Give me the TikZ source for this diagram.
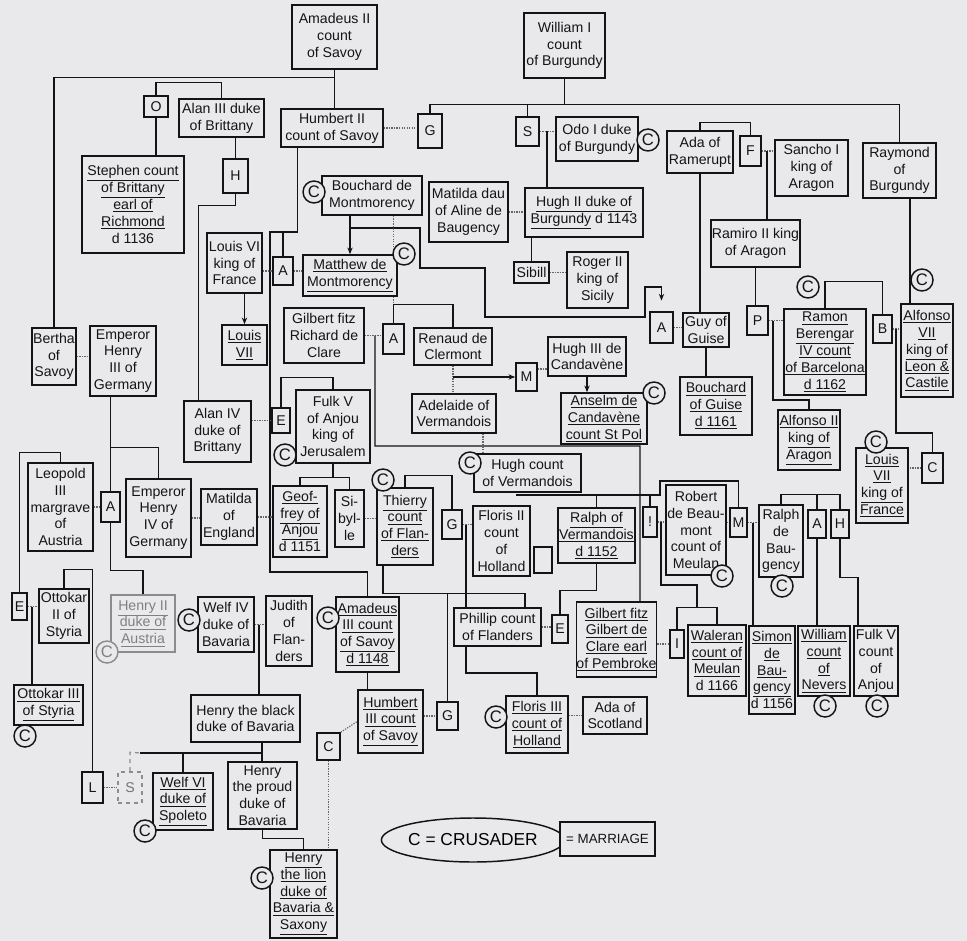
\documentclass[tikz,border=0pt]{standalone}
\usepackage{fontspec}
\setmainfont{Liberation Sans}
\usetikzlibrary{arrows.meta,shapes.geometric,calc}
\definecolor{bg}{RGB}{233,233,236}
\definecolor{ink}{RGB}{20,20,20}
\newcommand\ul[1]{\underline{#1}}
\newcommand\B[7][]{\node[box,#1,minimum width={(#5-#3)*0.75pt},minimum height={(#6-#4)*0.75pt}] (#2) at ({(#3+#5)/2},{(#4+#6)/2}) {#7};}
\pgfdeclarelayer{bgfill}
\pgfdeclarelayer{back}
\pgfsetlayers{bgfill,back,main}
\begin{document}
\begin{tikzpicture}[x=0.75pt,y=-0.75pt,
  font=\fontsize{10.6}{12.6}\selectfont,
  box/.style={draw=ink,line width=1.2pt,fill=bg,inner sep=0pt,align=center,text=ink},
  lnk/.style={draw=ink,line width=0.95pt},
  mar/.style={draw=black!60,line width=0.9pt,densely dotted},
  arr/.style={lnk,-{Stealth[length=5pt,width=4pt]}},
  crus/.style={circle,draw=ink,line width=1.1pt,fill=bg,inner sep=0pt,minimum size=16.5pt,font=\fontsize{12.5}{12.5}\selectfont,text=ink},
  faded/.style={draw=black!45,text=black!50}]
\begin{pgfonlayer}{bgfill}
\fill[bg] (0,0) rectangle (967,941);
\end{pgfonlayer}
\useasboundingbox (0,0) rectangle (967,941);

% ---------- boxes ----------
\B{am2}{292}{5}{377}{69}{Amadeus II\\count\\of Savoy}
\B{wil1}{524}{13}{605}{78}{William I\\count\\of Burgundy}
\B{oo}{144}{96}{168}{117}{O}
\B{alan3}{179}{99}{264}{137}{Alan III duke\\of Brittany}
\B{hum2}{281}{109}{383}{147}{Humbert II\\count of Savoy}
\B{g1}{418}{114}{442}{148}{G}
\B{s1}{516}{117}{539}{146}{S}
\B{odo}{556}{117}{638}{161}{Odo I duke\\of Burgundy}
\B{steph}{82}{156}{184}{253}{\ul{Stephen count}\\\ul{of Brittany}\\\ul{earl of}\\\ul{Richmond}\\d 1136}
\B{h1}{223}{159}{248}{193}{H}
\B{bouch}{322}{176}{422}{215}{Bouchard de\\Montmorency}
\B{matd}{429}{182}{508}{242}{Matilda dau\\of Aline de\\Baugency}
\B{hugh2}{525}{188}{643}{237}{\ul{Hugh II duke of}\\\ul{Burgundy} d 1143}
\B{sibill}{514}{262}{549}{283}{Sibill}
\B{roger}{567}{252}{628}{308}{Roger II\\king of\\Sicily}
\B{ada}{667}{131}{733}{173}{Ada of\\Ramerupt}
\B{ff}{740}{136}{761}{166}{F}
\B{sancho}{775}{140}{848}{196}{Sancho I\\king of\\Aragon}
\B{raym}{863}{143}{936}{198}{Raymond\\of\\Burgundy}
\B{ramiro}{711}{220}{800}{267}{Ramiro II king\\of Aragon}
\B{louis6}{207}{233}{262}{293}{Louis VI\\king of\\France}
\B{a1}{273}{257}{293}{285}{A}
\B{matth}{303}{255}{397}{296}{\ul{Matthew de}\\\ul{Montmorency}}
\B{louis7a}{222}{325}{267}{365}{\ul{Louis}\\\ul{VII}}
\B{gilb1}{284}{308}{364}{363}{Gilbert fitz\\Richard de\\Clare}
\B{a2}{383}{324}{404}{354}{A}
\B{renaud}{414}{328}{492}{365}{Renaud de\\Clermont}
\B{guy}{683}{313}{729}{347}{Guy of\\Guise}
\B{a3}{650}{312}{673}{343}{A}
\B{pp}{747}{306}{768}{335}{P}
\B{ramon}{784}{309}{866}{395}{\ul{Ramon}\\\ul{Berengar}\\\ul{IV count}\\\ul{of Barcelona}\\\ul{d 1162}}
\B{bb}{873}{315}{892}{343}{B}
\B{alf7}{901}{304}{953}{397}{\ul{Alfonso}\\\ul{VII}\\\ul{king of}\\\ul{Leon \&}\\\ul{Castile}}
\B{hugh3}{548}{337}{626}{376}{Hugh III de\\Candavène}
\B{mm1}{516}{363}{537}{391}{M}
\B{anselm}{561}{393}{647}{444}{\ul{Anselm de}\\\ul{Candavène}\\\ul{count St Pol}}
\B{bguise}{680}{377}{752}{435}{\ul{Bouchard}\\\ul{of Guise}\\\ul{d 1161}}
\B{alf2}{778}{410}{840}{470}{\ul{Alfonso II}\\\ul{king of}\\\ul{Aragon}}
\B{louis7b}{856}{448}{908}{523}{\ul{Louis}\\\ul{VII}\\\ul{king of}\\\ul{France}}
\B{cc1}{922}{453}{943}{483}{C}
\B{bertha}{32}{328}{76}{385}{Bertha\\of\\Savoy}
\B{hen3}{90}{326}{156}{396}{Emperor\\Henry\\III of\\Germany}
\B{alan4}{184}{401}{251}{462}{Alan IV\\duke of\\Brittany}
\B{e1}{272}{408}{290}{433}{E}
\B{fulk5}{296}{390}{370}{463}{Fulk V\\of Anjou\\king of\\Jerusalem}
\B{adel}{412}{394}{496}{433}{Adelaide of\\Vermandois}
\B{hughv}{474}{454}{581}{492}{Hugh count\\of Vermandois}
\B{leop}{28}{463}{93}{551}{Leopold\\III\\margrave\\of\\Austria}
\B{a4}{101}{492}{120}{522}{A}
\B{hen4}{126}{479}{191}{557}{Emperor\\Henry\\IV of\\Germany}
\B{matE}{201}{489}{257}{545}{Matilda\\of\\England}
\B{geof}{273}{486}{327}{557}{\ul{Geof-}\\\ul{frey of}\\\ul{Anjou}\\d 1151}
\B{sib}{335}{490}{364}{547}{Si-\\byl-\\le}
\B{thier}{377}{488}{433}{565}{\ul{Thierry}\\\ul{count}\\\ul{of Flan-}\\\ul{ders}}
\B{g2}{442}{510}{462}{539}{G}
\B{flor2}{473}{506}{530}{576}{Floris II\\count\\of\\Holland}
\B{emptyb}{534}{547}{552}{573}{}
\B{ralphv}{558}{508}{635}{563}{\ul{Ralph of}\\\ul{Vermandois}\\\ul{d 1152}}
\B{excl}{643}{507}{657}{537}{!}
\B{robert}{666}{485}{726}{575}{Robert\\de Beau-\\mont\\count of\\Meulan}
\B{mm2}{730}{508}{747}{537}{M}
\B{ralphb}{759}{505}{803}{577}{Ralph\\de\\Bau-\\gency}
\B{a5}{808}{510}{826}{538}{A}
\B{h2}{831}{510}{849}{538}{H}
\B{ott2}{39}{589}{89}{643}{Ottokar\\II of\\Styria}
\B{e2}{12}{593}{27}{620}{E}
\B[faded]{hen2a}{111}{595}{175}{652}{\ul{Henry II}\\\ul{duke of}\\\ul{Austria}}
\B{welf4}{198}{597}{254}{652}{Welf IV\\duke of\\Bavaria}
\B{judith}{266}{596}{312}{666}{Judith\\of\\Flan-\\ders}
\B{amad3}{336}{597}{399}{672}{\ul{Amadeus}\\\ul{III count}\\\ul{of Savoy}\\\ul{d 1148}}
\B{phil}{454}{608}{541}{646}{Phillip count\\of Flanders}
\B{e3}{552}{615}{568}{643}{E}
\B{gilb2}{577}{602}{656}{677}{\ul{Gilbert fitz}\\\ul{Gilbert de}\\\ul{Clare earl}\\\ul{of Pembroke}}
\B{i1}{670}{630}{684}{658}{I}
\B{waler}{688}{625}{746}{696}{\ul{Waleran}\\\ul{count of}\\\ul{Meulan}\\d 1166}
\B{simon}{749}{626}{795}{714}{\ul{Simon}\\\ul{de}\\\ul{Bau-}\\\ul{gency}\\d 1156}
\B{will}{798}{626}{850}{696}{\ul{William}\\\ul{count}\\\ul{of}\\\ul{Nevers}}
\B{fulka}{854}{626}{898}{696}{Fulk V\\count\\of\\Anjou}
\B{ott3}{14}{685}{83}{725}{\ul{Ottokar III}\\\ul{of Styria}}
\B{hblack}{191}{695}{300}{742}{Henry the black\\duke of Bavaria}
\B{hum3}{358}{690}{423}{753}{\ul{Humbert}\\\ul{III count}\\\ul{of Savoy}}
\B{g3}{437}{702}{458}{730}{G}
\B{flor3}{506}{696}{568}{753}{\ul{Floris III}\\\ul{count of}\\\ul{Holland}}
\B{adasc}{583}{697}{647}{734}{Ada of\\Scotland}
\B{cc2}{317}{733}{340}{760}{C}
\B{ll}{82}{772}{103}{803}{L}
\B[draw=black!45,dashed,text=black!55]{ss}{118}{772}{142}{803}{S}
\B{welf6}{153}{773}{213}{830}{\ul{Welf VI}\\\ul{duke of}\\\ul{Spoleto}}
\B{hproud}{228}{762}{297}{829}{Henry\\the proud\\duke of\\Bavaria}
\B{hlion}{270}{850}{337}{938}{\ul{Henry}\\\ul{the lion}\\\ul{duke of}\\\ul{Bavaria \&}\\\ul{Saxony}}
\node[ellipse,draw=ink,line width=1.1pt,fill=bg,minimum width={163*0.75pt},minimum height={44*0.75pt},inner sep=0pt,font=\fontsize{13}{13}\selectfont] (legc) at (473,840) {C = CRUSADER};
\B[font=\fontsize{10}{12}\selectfont]{legm}{560}{822}{655}{856}{= MARRIAGE}

% ---------- crusader marks ----------
\node[crus] (c1) at (648,140) {C};
\node[crus] (c2) at (314,192) {C};
\node[crus] (c3) at (404,254) {C};
\node[crus] (c4) at (808,287) {C};
\node[crus] (c5) at (922,280) {C};
\node[crus] (c6) at (654,393) {C};
\node[crus] (c7) at (876,442) {C};
\node[crus] (c8) at (285,455) {C};
\node[crus] (c9) at (470,463) {C};
\node[crus] (c10) at (383,480) {C};
\node[crus] (c11) at (722,576) {C};
\node[crus] (c12) at (782,586) {C};
\node[crus,draw=black!45,text=black!50] (c13) at (107,652) {C};
\node[crus] (c14) at (189,620) {C};
\node[crus] (c15) at (328,618) {C};
\node[crus] (c16) at (825,706) {C};
\node[crus] (c17) at (877,706) {C};
\node[crus] (c18) at (25,736) {C};
\node[crus] (c19) at (496,717) {C};
\node[crus] (c20) at (145,831) {C};
\node[crus] (c21) at (262,878) {C};

% ---------- connectors ----------
\begin{pgfonlayer}{back}
% Savoy / Brittany
\draw[lnk] (am2.south) -- (am2.south |- hum2.north);
\draw[lnk] (am2.south) -- ++(0,8) -| (bertha.north);
\draw[lnk] (oo.north) -- ++(0,-13) -| (alan3.north);
\draw[lnk] (oo.south) -- (oo.south |- steph.north);
\draw[lnk] (h1.north |- alan3.south) -- (h1.north);
\draw[lnk] (h1.south) -- ++(0,12) -| ([xshift=-14pt]alan4.north);
\draw[lnk] ([xshift=-26pt]hum2.south) |- (270,232) -- (270,572) -| (amad3.north);
\draw[lnk] (a1.north) -- (a1.north |- 0,232);
\draw[mar] (hum2.east) -- (hum2.east -| g1.west);
% Burgundy
\draw[lnk] (wil1.south) -- (wil1.south |- 0,105);
\draw[lnk] (g1.north) -- ++(0,-9) -| (raym.north);
\draw[lnk] (s1.north) -- (s1.north |- 0,105);
\draw[mar] (s1.east) -- (s1.east -| odo.west);
\draw[lnk] (547,131.5) -- (547,0 |- hugh2.north);
\draw[mar] (matd.east) -- (matd.east -| hugh2.west);
\draw[lnk] (sibill.north |- hugh2.south) -- (sibill.north);
\draw[mar] (sibill.east) -- (sibill.east -| roger.west);
% Ramerupt / Aragon
\draw[lnk] (ada.north) -- ++(0,-8) -| (ff.north);
\draw[mar] (ff.east) -- (ff.east -| sancho.west);
\draw[lnk] (767,151) -- (767,0 |- ramiro.north);
\draw[lnk] (ada.south) -- (ada.south |- guy.north);
\draw[lnk] (guy.south) -- (guy.south |- bguise.north);
\draw[mar] (a3.east) -- (a3.east -| guy.west);
\draw[lnk] (ramiro.south) -- (ramiro.south |- pp.north);
\draw[mar] (pp.east) -- (pp.east -| ramon.west);
\draw[lnk] (773,320.5) -- (773,400) -| (alf2.north);
\draw[lnk] (ramon.north) -- ++(0,-27) -| (bb.north);
\draw[mar] (bb.east) -- (bb.east -| alf7.west);
\draw[lnk] (896,329) -- (896,433) -| (cc1.north);
\draw[lnk] (910,0 |- raym.south) -- (910,0 |- alf7.north);
\draw[mar] (cc1.west) -- (cc1.west -| louis7b.east);
% Montmorency
\draw[arr] (matth.north |- bouch.south) -- (matth.north);
\draw[arr,shorten >=8pt] (350,228) -- (420,228) -- (420,268) -- (485,268) -- (485,317) -- (645,317) -- (645,287) -| (a3.north);
\draw[mar] (a2.north |- bouch.south) -- (a2.north |- matth.north);
\draw[mar] (a2.north |- matth.south) -- (a2.north);
\draw[mar] (a1.west -| louis6.east) -- (a1.west);
\draw[mar] (a1.east) -- (a1.east -| matth.west);
\draw[arr] (louis7a.north |- louis6.south) -- (louis7a.north);
% Clare / Clermont / Vermandois
\draw[mar] (gilb1.east) -- (gilb1.east -| a2.west);
\draw[lnk] (375,335.5) -- (375,446) -- (640,446) -- ([xshift=17.6pt]gilb2.north);
\draw[lnk] (a2.north) -- ++(0,-19) -| (renaud.north);
\draw[mar] (renaud.south) -- (renaud.south |- adel.north);
\draw[arr] (mm1.west -| renaud.south) -- (mm1.west);
\draw[mar] ([yshift=6pt]mm1.east) -- ([yshift=6pt]mm1.east -| hugh3.west);
\draw[arr] (hugh3.south) -- (hugh3.south |- anselm.north);
\draw[mar] (483,0 |- adel.south) -- (483,0 |- hughv.north);
\draw[lnk] (516,495) -- (660,495) -- (660,481) -| (mm2.north);
\draw[lnk] (ralphv.north |- 0,495) -- (ralphv.north);
\draw[lnk] (excl.north |- 0,495) -- (excl.north);
\draw[mar] (excl.east) -- (excl.east -| robert.west);
\draw[lnk] (661,522) -- (661,585) -- (697,585) -- (697,608);
\draw[lnk] (i1.north) -- ++(0,-22) -| (waler.north);
\draw[mar] (mm2.west -| robert.east) -- (mm2.west);
\draw[mar] (mm2.east) -- (mm2.east -| ralphb.west);
\draw[lnk] (753,522.5) -- (753,0 |- simon.north);
\draw[lnk] (ralphb.north) -- ++(0,-10) -| (h2.north);
\draw[lnk] (a5.north) -- (a5.north |- 0,495);
\draw[lnk] (a5.south) -- (a5.south |- will.north);
\draw[lnk] (h2.south) -- ++(0,39) -| ([xshift=-13.5pt]fulka.north);
\draw[mar] (gilb2.east |- i1.west) -- (i1.west);
% Empire / Austria / Styria
\draw[mar] (bertha.east) -- (bertha.east -| hen3.west);
\draw[lnk] (a4.north |- hen3.south) -- (a4.north |- 0,448);
\draw[lnk] (a4.north) -- ++(0,-44) -| (hen4.north);
\draw[lnk] (a4.south) -- ++(0,48) -| (hen2a.north);
\draw[mar] (leop.east |- a4.west) -- (a4.west);
\draw[lnk] (leop.north) -- ++(0,-10) -| (e2.north);
\draw[mar] (hen4.east) -- (hen4.east -| matE.west);
\draw[mar] (matE.east) -- (matE.east -| geof.west);
\draw[mar] (e1.west -| alan4.east) -- (e1.west);
\draw[lnk] (e1.north) -- ++(0,-30) -| (fulk5.north);
\draw[lnk] (fulk5.south) -- (fulk5.south |- 0,478);
\draw[lnk] (geof.north) -- ++(0,-8) -| (sib.north);
\draw[mar] (sib.east) -- (sib.east -| thier.west);
\draw[lnk] (thier.north) -- ++(0,-12) -| (g2.north);
\draw[mar] (g2.east) -- (g2.east -| flor2.west);
\draw[lnk] (466,524.5) -- (466,673) -| (flor3.north);
\draw[lnk] ([xshift=-16.5pt]thier.south) -- ++(0,28) -| ([xshift=20.6pt]phil.north);
\draw[lnk] (g3.north |- 0,593) -- (g3.north);
\draw[mar] (phil.east) -- (phil.east -| e3.west);
\draw[lnk] (ralphv.south) -- ++(0,27) -| (e3.north);
\draw[mar] (adasc.west -| flor3.east) -- (adasc.west);
\draw[lnk] (amad3.south) -- (amad3.south |- hum3.north);
\draw[mar] (g3.west -| hum3.east) -- (g3.west);
\draw[mar] (cc2.north east) -- (hum3.west);
\draw[mar] (cc2.south) -- (cc2.south |- hlion.north);
\draw[mar] (e2.east) -- (e2.east -| ott2.west);
\draw[lnk] (32,606.5) -- (32,0 |- ott3.north);
\draw[lnk] (ott2.north) -- ++(0,-19) -| (ll.north);
\draw[mar] (ll.east) -- (ss.west);
\draw[mar] (welf4.east) -- (welf4.east -| judith.west);
\draw[lnk] (259,624.5) -- (259,0 |- hblack.north);
\draw[draw=black!45,line width=0.9pt,dashed] (ss.north) -- ++(0,-19) -- (140,753);
\draw[lnk] (140,753) -- (262,753);
\draw[lnk] (welf6.north |- 0,753) -- (welf6.north);
\draw[lnk] (262,0 |- hblack.south) -- (262,0 |- hproud.north);
\draw[lnk] (hproud.south) -- ++(0,9) -| (hlion.north);
\end{pgfonlayer}
\end{tikzpicture}
\end{document}
